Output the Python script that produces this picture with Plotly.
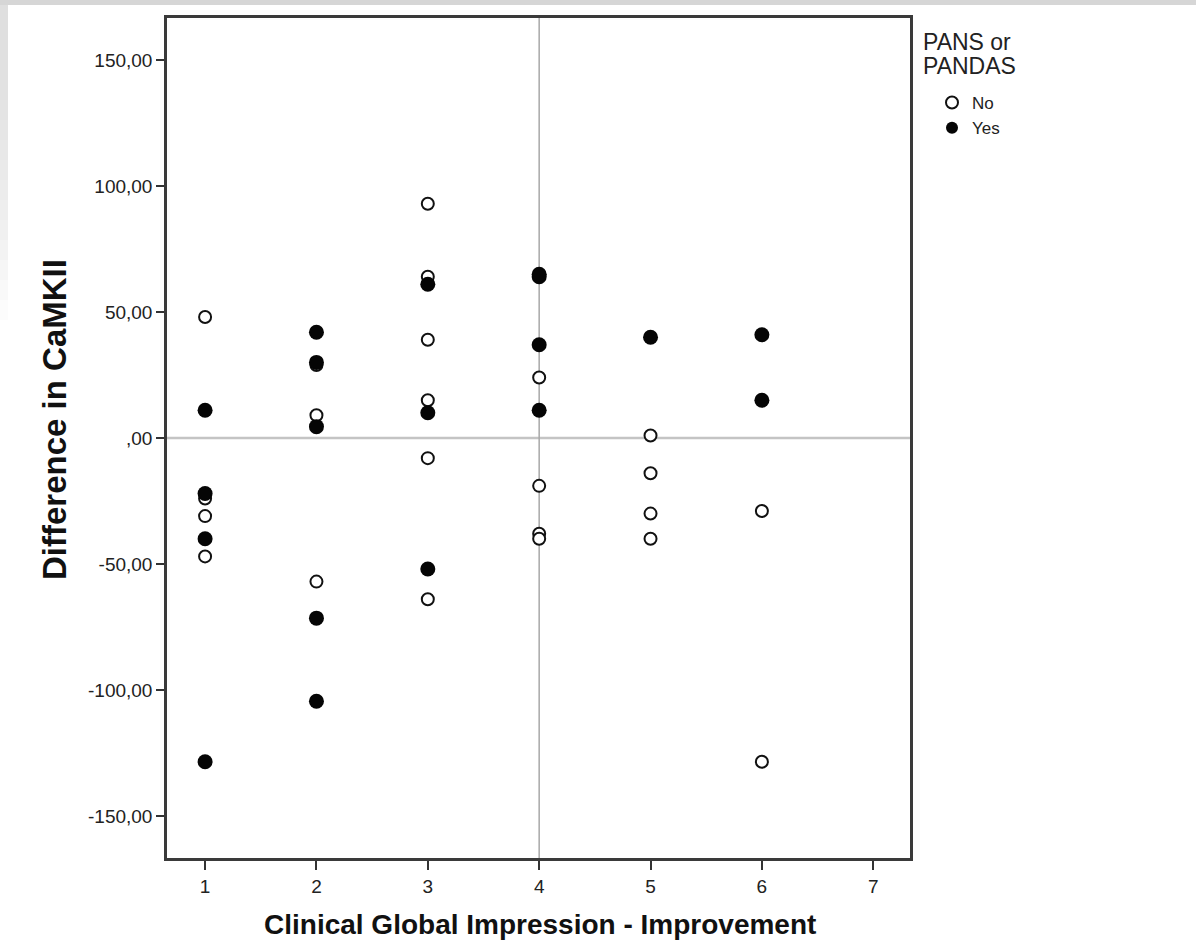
import plotly.graph_objects as go

# ---- data ----
no_x = [1, 1, 1, 1,
        2, 2, 2,
        3, 3, 3, 3, 3, 3,
        4, 4, 4, 4,
        5, 5, 5, 5,
        6, 6]
no_y = [48, -24, -31, -47,
        29, 9, -57,
        93, 64, 39, 15, -8, -64,
        24, -19, -38, -40,
        1, -14, -30, -40,
        -29, -128.5]

yes_x = [1, 1, 1, 1,
         2, 2, 2, 2, 2,
         3, 3, 3,
         4, 4, 4, 4,
         5,
         6, 6]
yes_y = [11, -22, -40, -128.5,
         42, 30, 4.5, -71.5, -104.5,
         61, 10, -52,
         64, 65, 37, 11,
         40,
         41, 15]

y_tickvals = [150, 100, 50, 0, -50, -100, -150]
y_ticktext = ["150,00", "100,00", "50,00", ",00", "-50,00", "-100,00", "-150,00"]
x_tickvals = [1, 2, 3, 4, 5, 6, 7]

x_title = "Clinical Global Impression - Improvement"
y_title = "Difference in CaMKII"
legend_title_lines = ["PANS or", "PANDAS"]

# ---- layout geometry (pixels) ----
W, H = 1196, 943
ML, MR, MT, MB = 167, 286, 18, 85
PW, PH = W - ML - MR, H - MT - MB


def px_x(p):
    return (p - ML) / PW


def px_y(p):
    return 1 - (p - MT) / PH


FAM = "Liberation Sans, Arial, sans-serif"
TICKFONT = dict(family=FAM, size=19, color="#222")

fig = go.Figure()

fig.add_trace(go.Scatter(
    x=no_x, y=no_y, mode="markers", name="No",
    marker=dict(symbol="circle", size=12, color="white",
                line=dict(color="#111", width=2)),
))
fig.add_trace(go.Scatter(
    x=yes_x, y=yes_y, mode="markers", name="Yes",
    marker=dict(symbol="circle", size=15, color="#050505",
                line=dict(color="#050505", width=0)),
))

# reference lines
fig.add_shape(type="line", xref="paper", yref="y", x0=0, x1=1, y0=0, y1=0,
              line=dict(color="#c4c4c4", width=2.5), layer="below")
fig.add_shape(type="line", xref="x", yref="paper", x0=4, x1=4, y0=0, y1=1,
              line=dict(color="#a8a8a8", width=1.5), layer="below")

# page decorations: grey top strip and faded left strip
fig.add_shape(type="rect", xref="paper", yref="paper",
              x0=px_x(0), x1=px_x(W), y0=px_y(5), y1=px_y(0),
              line=dict(width=0), fillcolor="#d6d6d6", layer="below")
for i, h in enumerate(range(40, 330, 20)):
    fig.add_shape(type="rect", xref="paper", yref="paper",
                  x0=px_x(0), x1=px_x(8), y0=px_y(h), y1=px_y(5),
                  line=dict(width=0), fillcolor="#d0d0d0", opacity=0.07,
                  layer="below")

# axis titles as annotations
fig.add_annotation(
    text="<b>" + x_title + "</b>", xref="paper", yref="paper",
    x=px_x(540), y=px_y(924), xanchor="center", yanchor="middle",
    showarrow=False, font=dict(family=FAM, size=28, color="#111"),
)
fig.add_annotation(
    text="<b>" + y_title + "</b>", xref="paper", yref="paper",
    x=px_x(54), y=px_y(420), xanchor="center", yanchor="middle",
    textangle=-90, showarrow=False, font=dict(family=FAM, size=33, color="#111"),
)

# legend title as annotations (one per line)
for line, yc in zip(legend_title_lines, [42, 66]):
    fig.add_annotation(
        text=line, xref="paper", yref="paper",
        x=px_x(921), y=px_y(yc), xanchor="left", yanchor="middle",
        align="left", showarrow=False,
        font=dict(family=FAM, size=23, color="#222"),
    )

fig.update_layout(
    width=W, height=H,
    margin=dict(l=ML, r=MR, t=MT, b=MB, autoexpand=False),
    paper_bgcolor="white", plot_bgcolor="white",
    showlegend=True,
    legend=dict(
        font=dict(family=FAM, size=17, color="#222"),
        x=px_x(932), y=px_y(85), xanchor="left", yanchor="top",
        itemsizing="constant", tracegroupgap=0, itemwidth=30,
        bgcolor="rgba(0,0,0,0)",
    ),
    xaxis=dict(
        range=[0.658, 7.33], tickvals=x_tickvals, ticktext=[str(v) for v in x_tickvals],
        showgrid=False, zeroline=False, automargin=False,
        showline=True, mirror=True, linecolor="#3a3a3a", linewidth=2.5,
        ticks="outside", ticklen=9, tickwidth=2, tickcolor="#333",
        tickfont=TICKFONT,
    ),
    yaxis=dict(
        range=[-166.7, 166.7], tickvals=y_tickvals, ticktext=y_ticktext,
        showgrid=False, zeroline=False, automargin=False,
        showline=True, mirror=True, linecolor="#3a3a3a", linewidth=2.5,
        ticks="outside", ticklen=8, tickwidth=2, tickcolor="#333",
        tickfont=TICKFONT,
    ),
)

fig.write_html("out.html")
